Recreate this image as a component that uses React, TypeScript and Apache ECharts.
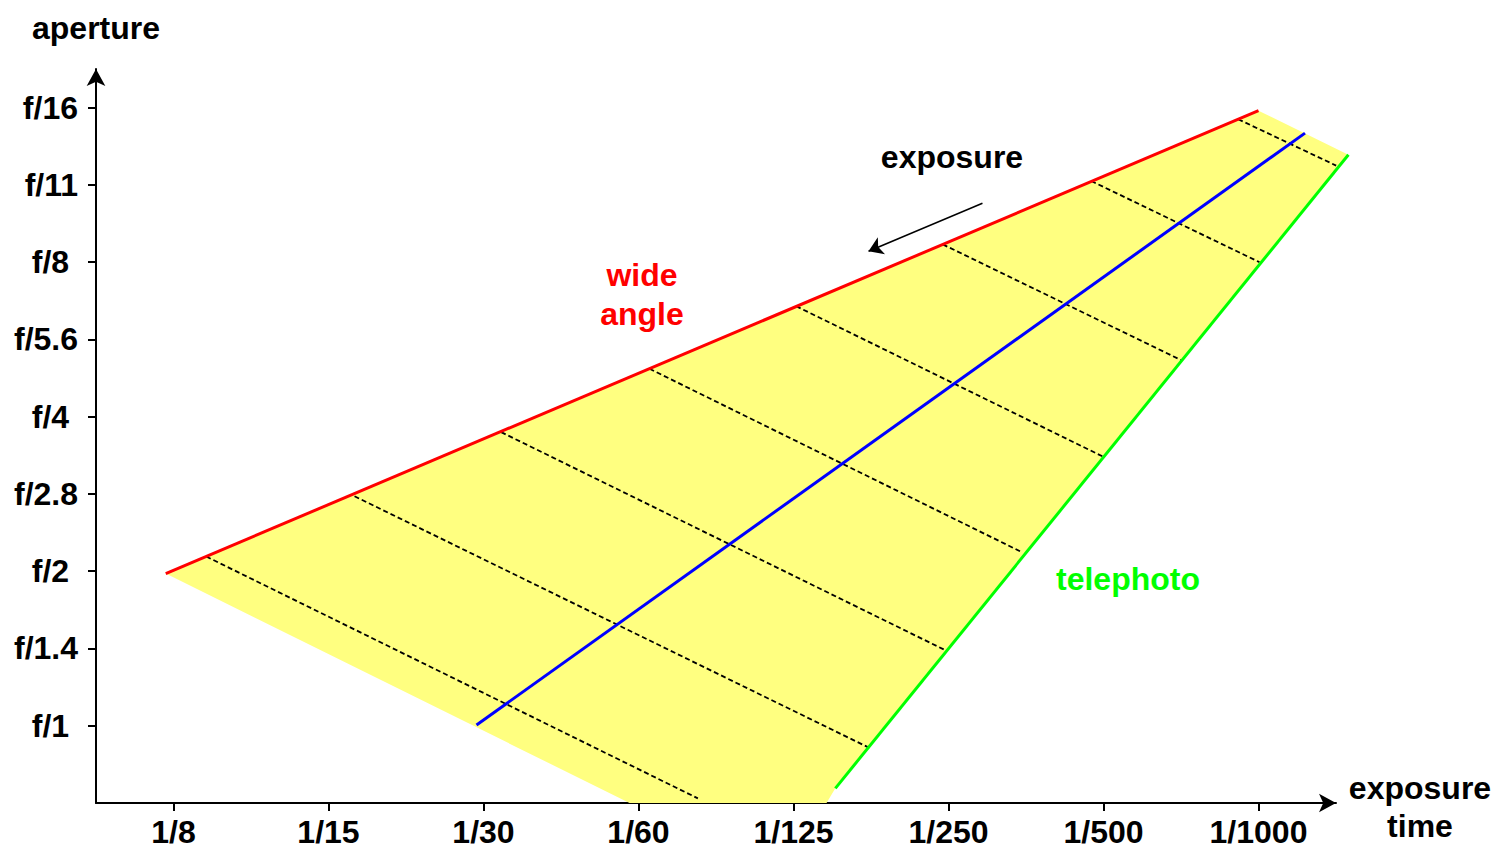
import React, { useEffect, useRef } from "react";
import * as echarts from "echarts";

const xLabels = ["1/8", "1/15", "1/30", "1/60", "1/125", "1/250", "1/500", "1/1000"];
const yLabels = ["f/1\u00a0", "f/1.4", "f/2\u00a0", "f/2.8", "f/4\u00a0", "f/5.6", "f/8\u00a0", "f/11", "f/16"];

// x = stop index of exposure time, y = stop index of aperture
const wideAngle = [[-0.05, 1.97], [7.0, 7.96]];
const normalLens = [[1.955, 0.01], [7.3, 7.67]];
const telephoto = [[4.27, -0.81], [7.58, 7.39]];
const region = [[-0.05, 1.97], [7.0, 7.96], [7.58, 7.39], [4.27, -0.81], [4.213, -1], [2.942, -1]];
const isoExposure = [
  [[0.211, 2.19], [3.383, -0.94]],
  [[1.168, 2.97], [4.503, -0.3]],
  [[2.114, 3.8], [4.987, 0.97]],
  [[3.071, 4.62], [5.475, 2.245]],
  [[4.017, 5.43], [6.0, 3.48]],
  [[4.963, 6.23], [6.503, 4.73]],
  [[5.921, 7.05], [7.006, 6.0]],
  [[6.869, 7.85], [7.501, 7.25]],
];
const exposureArrow = [[5.219, 6.763], [4.484, 6.142]];

const FONT = '"Liberation Sans", Arial, sans-serif';

export default function App() {
  const ref = useRef<HTMLDivElement>(null);
  useEffect(() => {
    const chart = echarts.init(ref.current!, null, { renderer: "svg" });
    const textEl = (text: string, x: number, y: number, color: string) => ({
      type: "text",
      x,
      y,
      style: {
        text,
        fill: color,
        font: `bold 32px ${FONT}`,
        align: "center",
        verticalAlign: "middle",
        textAlign: "center",
        textVerticalAlign: "middle",
      },
    });
    const segSeries = (seg: number[][], color: string, width: number, dash: any, z: number) => ({
      type: "custom",
      clip: false,
      z,
      data: [0],
      renderItem: (_params: any, api: any) => {
        const a = api.coord(seg[0]);
        const b = api.coord(seg[1]);
        return {
          type: "line",
          shape: { x1: a[0], y1: a[1], x2: b[0], y2: b[1] },
          style: { stroke: color, lineWidth: width, lineDash: dash, fill: "none" },
        };
      },
    });
    const option: any = {
      animation: false,
      backgroundColor: "#ffffff",
      grid: { left: 96, right: 170, top: 69, bottom: 55, outerBoundsMode: "none", containLabel: false },
      xAxis: {
        type: "value",
        min: -0.5,
        max: 7.5,
        splitLine: { show: false },
        axisLine: { show: true, onZero: false, symbol: ["none", "arrow"], symbolSize: [14, 17], lineStyle: { color: "#000", width: 2 } },
        axisTick: { show: true, length: 8, customValues: [0, 1, 2, 3, 4, 5, 6, 7], lineStyle: { color: "#000", width: 2 } },
        axisLabel: {
          customValues: [0, 1, 2, 3, 4, 5, 6, 7],
          formatter: (v: number) => xLabels[Math.round(v)] ?? "",
          fontSize: 32,
          fontWeight: "bold",
          fontFamily: FONT,
          color: "#000",
          margin: 13,
        },
      },
      yAxis: {
        type: "value",
        min: -1,
        max: 8.5,
        splitLine: { show: false },
        axisLine: { show: true, onZero: false, symbol: ["none", "arrow"], symbolSize: [14, 17], lineStyle: { color: "#000", width: 2 } },
        axisTick: { show: true, length: 8, customValues: [0, 1, 2, 3, 4, 5, 6, 7, 8], lineStyle: { color: "#000", width: 2 } },
        axisLabel: {
          customValues: [0, 1, 2, 3, 4, 5, 6, 7, 8],
          formatter: (v: number) => yLabels[Math.round(v)] ?? "",
          fontSize: 32,
          fontWeight: "bold",
          fontFamily: FONT,
          color: "#000",
          margin: 18,
        },
      },
      series: [
        {
          type: "custom",
          clip: false,
          z: 1,
          data: [0],
          renderItem: (_params: any, api: any) => ({
            type: "polygon",
            shape: { points: region.map((p) => api.coord(p)) },
            style: { fill: "#ffff80", stroke: "none" },
          }),
        },
        ...isoExposure.map((seg) => segSeries(seg, "#000", 1.8, [5, 3], 3)),
        segSeries(wideAngle, "#ff0000", 3, null, 4),
        segSeries(normalLens, "#0000ff", 3, null, 4),
        segSeries(telephoto, "#00ff00", 3, null, 4),
        {
          type: "lines",
          coordinateSystem: "cartesian2d",
          z: 5,
          symbol: ["none", "arrow"],
          symbolSize: 14,
          lineStyle: { color: "#000", width: 1.5, opacity: 1 },
          data: [{ coords: exposureArrow }],
        },
      ],
      graphic: [
        textEl("aperture", 96, 28, "#000"),
        textEl("exposure", 1420, 788, "#000"),
        textEl("time", 1420, 826, "#000"),
        textEl("exposure", 952, 157, "#000"),
        textEl("wide", 642, 275, "#ff0000"),
        textEl("angle", 642, 314, "#ff0000"),
        textEl("normal", 719, 457, "#0000ff"),
        textEl("lens", 719, 497, "#0000ff"),
        textEl("telephoto", 1128, 579, "#00ff00"),
      ],
    };
    chart.setOption(option);
    return () => chart.dispose();
  }, []);
  return <div ref={ref} style={{ position: "fixed", left: 0, top: 0, width: 1506, height: 858 }} />;
}
